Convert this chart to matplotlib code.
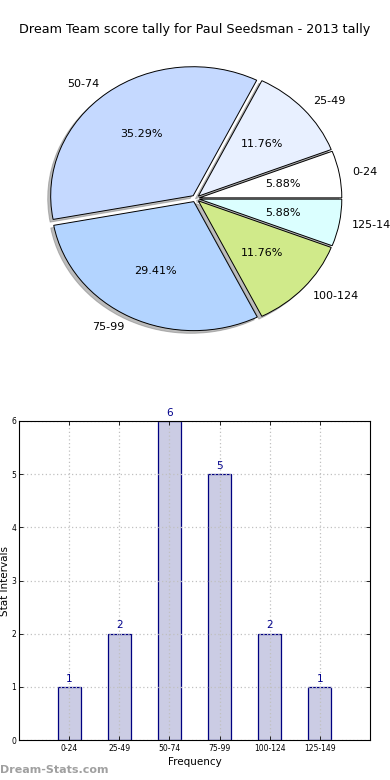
import matplotlib
matplotlib.use("Agg")
import matplotlib.pyplot as plt
from matplotlib.patches import Shadow
import numpy as np

categories = ["0-24", "25-49", "50-74", "75-99", "100-124", "125-149"]
counts = [1, 2, 6, 5, 2, 1]
slice_colors = ["#ffffff", "#e8f0ff", "#c5d9ff", "#b3d4ff", "#d0ea8a", "#dbffff"]
title = "Dream Team score tally for Paul Seedsman - 2013 tally"

plt.rcParams['font.family'] = ['DejaVu Sans']

W, H = 390, 780
fig = plt.figure(figsize=(W / 100, H / 100), dpi=100)

fig.text(0.5, 1 - 30 / H, title, ha='center', va='center', fontsize=9.2)

# Pie axes (slightly elliptical as in the reference)
cx, cy = 195.5, 198.5
sx, sy = 142.5, 129.0
lim = 1.25
axw, axh = 2 * lim * sx, 2 * lim * sy
ax1 = fig.add_axes([(cx - axw / 2) / W, 1 - (cy + axh / 2) / H, axw / W, axh / H])
ax1.axis('off')
wedges, texts, autotexts = ax1.pie(
    counts, labels=categories, colors=slice_colors, explode=[0.027] * len(counts),
    startangle=0, counterclock=True, autopct='%1.2f%%', pctdistance=0.6,
    labeldistance=1.09,
    wedgeprops={'edgecolor': 'black', 'linewidth': 0.7, 'zorder': 2},
    textprops={'fontsize': 8})
for w in wedges:
    sh = Shadow(w, -0.015, -0.015, facecolor='#7a7a7a', edgecolor='#7a7a7a', zorder=1)
    ax1.add_patch(sh)
ax1.set_xlim(-lim, lim)
ax1.set_ylim(-lim, lim)
ax1.set_aspect('auto')

# Bar axes
ax2 = fig.add_axes([19 / W, 1 - 740 / H, (370 - 19) / W, (740 - 421) / H])
x = np.arange(len(categories))
ax2.bar(x, counts, width=0.46, color="#cbcce4", edgecolor="#000080", linewidth=0.9, zorder=2)
for xi, c in zip(x, counts):
    ax2.text(xi, c + 0.06, str(c), ha='center', va='bottom', color='#00008b', fontsize=7.5)
ax2.set_xlim(-1, 6)
ax2.set_ylim(0, 6)
ax2.set_xticks(x)
ax2.set_xticklabels(categories, fontsize=5.5)
ax2.set_yticks(range(0, 7))
ax2.tick_params(axis='y', labelsize=5.5, length=3, width=0.6, pad=2)
ax2.tick_params(axis='x', length=3, width=0.6, pad=3)
ax2.tick_params(top=True, right=True, direction='in')
ax2.grid(True, linestyle=(0, (1, 2)), color='#c0c0c0', linewidth=0.9, zorder=3)
ax2.set_axisbelow(False)
ax2.set_xlabel("Frequency", fontsize=7.5, labelpad=3)
ax2.set_ylabel("Stat Intervals", fontsize=7.5, labelpad=1)
for s in ax2.spines.values():
    s.set_linewidth(0.8)
    s.set_zorder(5)

fig.text(0.0, 1 - 770 / H, "Dream-Stats.com", ha='left', va='center', fontsize=8,
         color='#a0a0a0', fontweight='bold')

fig.savefig("out.png", dpi=100)
